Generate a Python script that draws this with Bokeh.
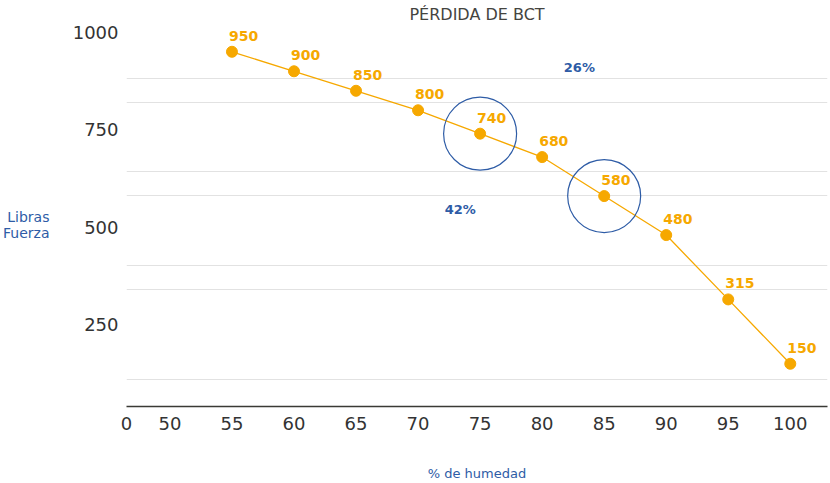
from bokeh.plotting import figure
from bokeh.models import FixedTicker, LinearAxis
from bokeh.core.properties import value
from bokeh.embed import file_html
from bokeh.resources import INLINE

# ---- data ----
humidity = [55, 60, 65, 70, 75, 80, 85, 90, 95, 100]
force = [950, 900, 850, 800, 740, 680, 580, 480, 315, 150]
point_labels = [str(v) for v in force]
highlight_humidity = [75, 85]
pct_text = ["26%", "42%"]
pct_x = [83, 73.4]
pct_y = [909, 545]
x_ticks = [50, 55, 60, 65, 70, 75, 80, 85, 90, 95, 100]
y_ticks = [250, 500, 750, 1000]
grid_values = [881, 820, 643, 582, 403, 341, 109]

ORANGE = "#F6A800"
BLUE = "#2E5CA6"
DARK = "#333333"
FONT = "DejaVu Sans"

X_START, X_END = 46.5, 103.0
Y_START, Y_END = 40.4, 1014.8

p = figure(width=830, height=483, x_range=(X_START, X_END), y_range=(Y_START, Y_END),
           output_backend="svg", toolbar_location=None,
           min_border_left=126, min_border_right=3, min_border_top=25, min_border_bottom=77,
           title="PÉRDIDA DE BCT")
p.outline_line_color = None
p.background_fill_color = "white"

p.title.align = "center"
p.title.text_font = FONT
p.title.text_font_size = "16px"
p.title.text_font_style = "normal"
p.title.text_color = "#444440"
p.title.standoff = 5

# x axis
xa = p.xaxis[0]
xa.ticker = FixedTicker(ticks=[X_START] + x_ticks)
xa.major_label_overrides = {X_START: "0"}
xa.major_tick_line_color = None
xa.minor_tick_line_color = None
xa.axis_line_color = "#3a3a35"
xa.axis_line_width = 1.5
xa.major_label_standoff = 4
xa.major_label_text_font = FONT
xa.major_label_text_font_size = "18px"
xa.major_label_text_color = DARK
xa.axis_label = "% de humedad"
xa.axis_label_text_font = FONT
xa.axis_label_text_font_size = "13px"
xa.axis_label_text_font_style = "normal"
xa.axis_label_text_color = BLUE
xa.axis_label_standoff = 33

# y axis
ya = p.yaxis[0]
ya.ticker = FixedTicker(ticks=y_ticks)
ya.axis_line_color = None
ya.major_tick_line_color = None
ya.minor_tick_line_color = None
ya.major_label_standoff = 2
ya.major_label_text_font = FONT
ya.major_label_text_font_size = "18px"
ya.major_label_text_color = DARK

# outer left axis carrying only the horizontal y title
ta = LinearAxis(ticker=FixedTicker(ticks=[]), axis_line_color=None,
                major_tick_line_color=None, minor_tick_line_color=None,
                axis_label="\nLibras\nFuerza", axis_label_orientation="horizontal",
                axis_label_standoff=20, axis_label_text_font=FONT,
                axis_label_text_font_size="14px", axis_label_text_font_style="normal",
                axis_label_text_color=BLUE, axis_label_text_line_height=1.0)
p.add_layout(ta, "left")

p.xgrid.visible = False
p.ygrid[0].ticker = FixedTicker(ticks=grid_values)
p.ygrid[0].grid_line_color = "#E2E2E2"
p.ygrid[0].grid_line_width = 1

# series
p.line(humidity, force, line_color=ORANGE, line_width=1.3)
p.scatter(humidity, force, size=11, fill_color=ORANGE, line_color=ORANGE)
p.text(humidity, force, text=point_labels, x_offset=-3, y_offset=-16,
       text_align="left", text_baseline="alphabetic",
       text_font=value(FONT), text_font_size="14px", text_font_style="bold",
       text_color=ORANGE)

# highlight circles
hy = [force[humidity.index(h)] for h in highlight_humidity]
p.scatter(highlight_humidity, hy, size=73, fill_color=None, line_color=BLUE, line_width=1.2)

# percent annotations
p.text(pct_x, pct_y, text=pct_text, text_align="center", text_baseline="middle",
       text_font=value(FONT), text_font_size="13px", text_font_style="bold",
       text_color=BLUE)

open("out.html", "w").write(file_html(p, INLINE))
